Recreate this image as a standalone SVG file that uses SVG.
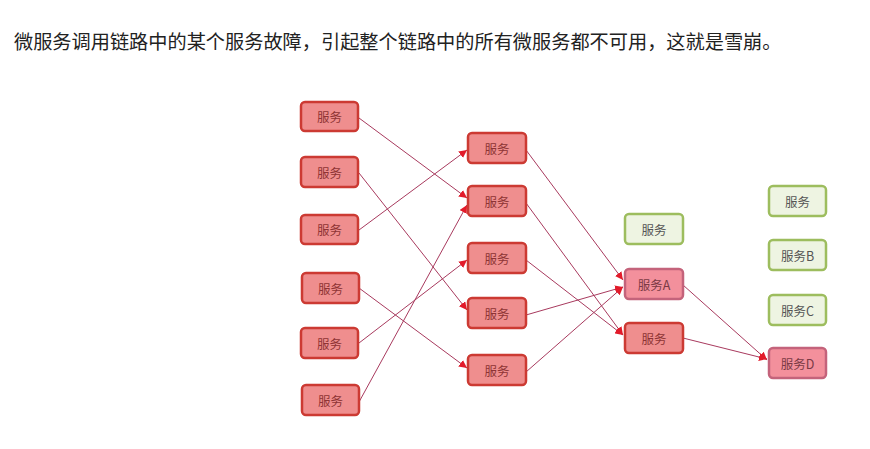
<svg xmlns="http://www.w3.org/2000/svg" width="870" height="449" viewBox="0 0 870 449">
<style>
  .t{font-family:"Noto Sans CJK SC","Liberation Sans",sans-serif;font-size:12.5px;text-anchor:middle;dominant-baseline:central}
  .red rect{fill:#ef8e8e;stroke:#cc3a33;stroke-width:2.5}
  .red text{fill:#8e3434}
  .pink rect{fill:#f3909c;stroke:#c4637b;stroke-width:2.5}
  .pink text{fill:#7a3a44}
  .green rect{fill:#eef4e2;stroke:#9dbd5e;stroke-width:2.5}
  .green text{fill:#555}
  .e line{stroke:#a83a5e;stroke-width:1;fill:none}
  .title{font-family:"Noto Sans CJK SC","Liberation Sans",sans-serif;font-size:19.2px;fill:#222}
</style>
<defs>
  <marker id="ah" viewBox="0 0 10 10" refX="10" refY="5" markerWidth="8" markerHeight="8" markerUnits="userSpaceOnUse" orient="auto">
    <path d="M0,0 L10,5 L0,10 z" fill="#e21b2a"/>
  </marker>
</defs>
<rect width="870" height="449" fill="#fff"/>
<text class="title" x="14" y="49">微服务调用链路中的某个服务故障，引起整个链路中的所有微服务都不可用，这就是雪崩。</text>

<g id="connectors" class="e">
  <line x1="359" y1="118" x2="467" y2="198" marker-end="url(#ah)"/>
  <line x1="359" y1="173" x2="467" y2="310" marker-end="url(#ah)"/>
  <line x1="359" y1="230" x2="467" y2="150" marker-end="url(#ah)"/>
  <line x1="359" y1="288" x2="467" y2="368" marker-end="url(#ah)"/>
  <line x1="359" y1="343" x2="467" y2="260" marker-end="url(#ah)"/>
  <line x1="359" y1="402" x2="467" y2="205" marker-end="url(#ah)"/>
  <line x1="526" y1="150" x2="623" y2="280" marker-end="url(#ah)"/>
  <line x1="526" y1="203" x2="623" y2="335" marker-end="url(#ah)"/>
  <line x1="526" y1="260" x2="623" y2="335" marker-end="url(#ah)"/>
  <line x1="526" y1="315" x2="623" y2="287" marker-end="url(#ah)"/>
  <line x1="526" y1="372" x2="623" y2="287" marker-end="url(#ah)"/>
  <line x1="683" y1="285" x2="767" y2="360" marker-end="url(#ah)"/>
  <line x1="683" y1="338" x2="767" y2="359" marker-end="url(#ah)"/>
</g>

<g id="l1" class="red"><rect x="301" y="102" width="57" height="29" rx="4"/><text class="t" x="329.5" y="116.5">服务</text></g>
<g id="l2" class="red"><rect x="301" y="157" width="57" height="30" rx="4"/><text class="t" x="329.5" y="172">服务</text></g>
<g id="l3" class="red"><rect x="301" y="215" width="57" height="29" rx="4"/><text class="t" x="329.5" y="229.5">服务</text></g>
<g id="l4" class="red"><rect x="302" y="273" width="57" height="30" rx="4"/><text class="t" x="330.5" y="288">服务</text></g>
<g id="l5" class="red"><rect x="301" y="328" width="57" height="30" rx="4"/><text class="t" x="329.5" y="343">服务</text></g>
<g id="l6" class="red"><rect x="302" y="385" width="57" height="30" rx="4"/><text class="t" x="330.5" y="400">服务</text></g>

<g id="m1" class="red"><rect x="468" y="133" width="58" height="30" rx="4"/><text class="t" x="497" y="148">服务</text></g>
<g id="m2" class="red"><rect x="468" y="186" width="58" height="30" rx="4"/><text class="t" x="497" y="201">服务</text></g>
<g id="m3" class="red"><rect x="468" y="243" width="58" height="30" rx="4"/><text class="t" x="497" y="258">服务</text></g>
<g id="m4" class="red"><rect x="468" y="298" width="58" height="30" rx="4"/><text class="t" x="497" y="313">服务</text></g>
<g id="m5" class="red"><rect x="468" y="355" width="58" height="30" rx="4"/><text class="t" x="497" y="370">服务</text></g>

<g id="r0" class="green"><rect x="625" y="214" width="58" height="30" rx="4"/><text class="t" x="654" y="229">服务</text></g>
<g id="rA" class="pink"><rect x="625" y="269" width="58" height="30" rx="4"/><text class="t" x="654" y="284">服务A</text></g>
<g id="r2" class="red"><rect x="625" y="323" width="58" height="30" rx="4"/><text class="t" x="654" y="338">服务</text></g>

<g id="f1" class="green"><rect x="769" y="186" width="57" height="30" rx="4"/><text class="t" x="797.5" y="201">服务</text></g>
<g id="fB" class="green"><rect x="769" y="240" width="57" height="30" rx="4"/><text class="t" x="797.5" y="255">服务B</text></g>
<g id="fC" class="green"><rect x="769" y="295" width="57" height="30" rx="4"/><text class="t" x="797.5" y="310">服务C</text></g>
<g id="fD" class="pink"><rect x="769" y="348" width="57" height="30" rx="4"/><text class="t" x="797.5" y="363">服务D</text></g>
</svg>
